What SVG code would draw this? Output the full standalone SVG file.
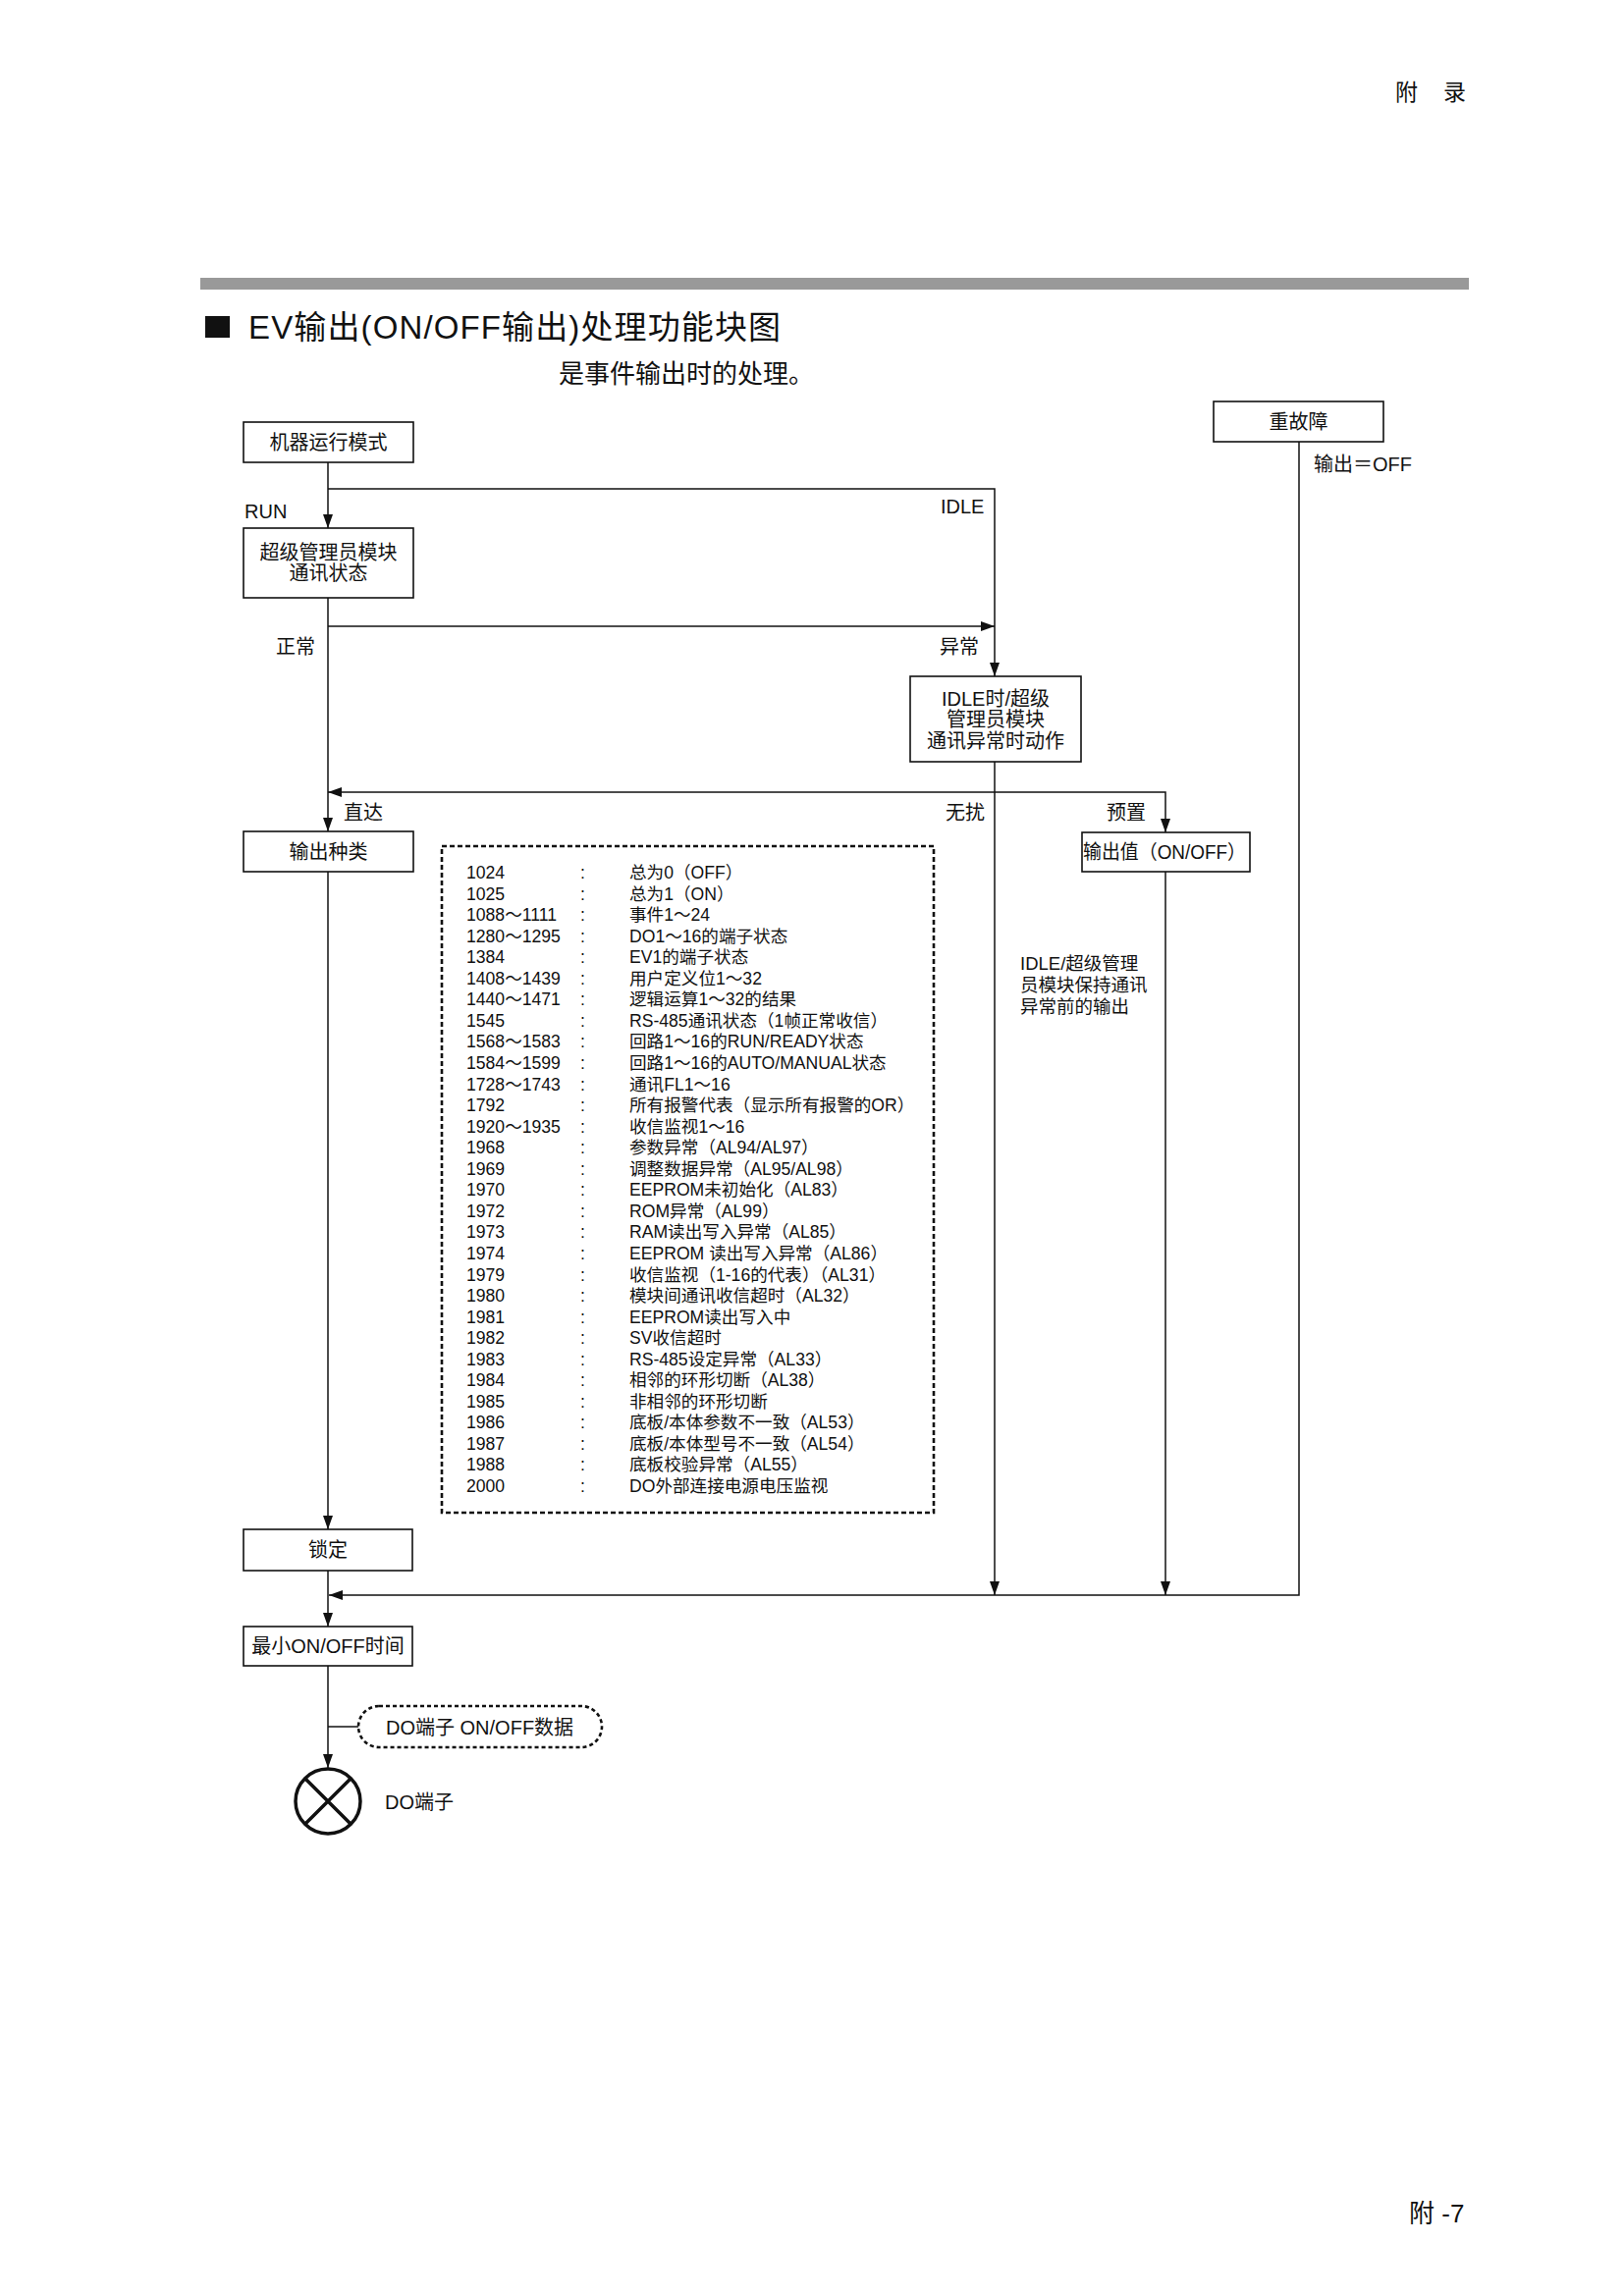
<svg xmlns="http://www.w3.org/2000/svg" width="1654" height="2339" viewBox="0 0 1654 2339">
<defs>
<style>
text{font-family:"Liberation Sans","Noto Sans CJK SC",sans-serif;fill:#111}
.n{font-size:20px}
.c{text-anchor:middle}
.lb{font-size:20px}
.tb{font-size:17.6px}
.box{fill:#fff;stroke:#111;stroke-width:1.6}
.ln{fill:none;stroke:#111;stroke-width:1.5}
.dot{fill:none;stroke:#111;stroke-width:2.6;stroke-dasharray:5 3}
</style>
<marker id="ah" markerUnits="userSpaceOnUse" viewBox="0 0 14 10" refX="14" refY="5" markerWidth="14" markerHeight="10" orient="auto">
<path d="M0,0 L14,5 L0,10 z" fill="#111"/>
</marker>
</defs>
<rect width="1654" height="2339" fill="#fff"/>

<g id="page">
<text x="1421" y="102" style="font-size:23px">附</text>
<text x="1470" y="102" style="font-size:23px">录</text>
<rect x="204" y="283" width="1292" height="12" fill="#999"/>
<rect x="209" y="322" width="25" height="22" fill="#111"/>
<text x="253" y="345" style="font-size:33px" textLength="542" lengthAdjust="spacing">EV输出(ON/OFF输出)处理功能块图</text>
<text x="569" y="390" style="font-size:26px">是事件输出时的处理。</text>
<text x="1435" y="2264" style="font-size:26px">附 -7</text>
</g>

<g id="connectors">
<path class="ln" d="M334,471 V538" marker-end="url(#ah)"/>
<path class="ln" d="M334,498 H1013 V689" marker-end="url(#ah)"/>
<path class="ln" d="M334,638 H1013" marker-end="url(#ah)"/>
<path class="ln" d="M334,609 V847" marker-end="url(#ah)"/>
<path class="ln" d="M1013,776 V1625" marker-end="url(#ah)"/>
<path class="ln" d="M1013,807 H334" marker-end="url(#ah)"/>
<path class="ln" d="M1013,807 H1187 V848" marker-end="url(#ah)"/>
<path class="ln" d="M1187,888 V1625" marker-end="url(#ah)"/>
<path class="ln" d="M334,888 V1558" marker-end="url(#ah)"/>
<path class="ln" d="M1323,450 V1625 H335" marker-end="url(#ah)"/>
<path class="ln" d="M334,1600 V1657" marker-end="url(#ah)"/>
<path class="ln" d="M334,1697 V1801" marker-end="url(#ah)"/>
<path class="ln" d="M334,1759 H365"/>
</g>

<g id="labels">
<text class="lb" x="249" y="528">RUN</text>
<text class="lb" x="958" y="523">IDLE</text>
<text class="lb" x="281" y="666">正常</text>
<text class="lb" x="957" y="666">异常</text>
<text class="lb" x="1338" y="480">输出＝OFF</text>
<text class="lb" x="350" y="835">直达</text>
<text class="lb" x="963" y="835">无扰</text>
<text class="lb" x="1127" y="835">预置</text>
<text x="1039" y="988" style="font-size:18.5px">IDLE/超级管理</text>
<text x="1039" y="1010" style="font-size:18.5px">员模块保持通讯</text>
<text x="1039" y="1032" style="font-size:18.5px">异常前的输出</text>
</g>

<g id="n-mode">
<rect class="box" x="248" y="430" width="173" height="41"/>
<text class="n c" x="334.5" y="458">机器运行模式</text>
</g>
<g id="n-super">
<rect class="box" x="248" y="538" width="173" height="71"/>
<text class="n c" x="334.5" y="570">超级管理员模块</text>
<text class="n c" x="334.5" y="591">通讯状态</text>
</g>
<g id="n-fault">
<rect class="box" x="1236" y="409" width="173" height="41"/>
<text class="n c" x="1322.5" y="437">重故障</text>
</g>
<g id="n-idle">
<rect class="box" x="927" y="689" width="174" height="87"/>
<text class="n c" x="1014" y="719">IDLE时/超级</text>
<text class="n c" x="1014" y="740">管理员模块</text>
<text class="n c" x="1014" y="762">通讯异常时动作</text>
</g>
<g id="n-type">
<rect class="box" x="248" y="847" width="173" height="41"/>
<text class="n c" x="334.5" y="875">输出种类</text>
</g>
<g id="n-preset">
<rect class="box" x="1102" y="848" width="171" height="40"/>
<text class="n" x="1103" y="875" textLength="166" lengthAdjust="spacingAndGlyphs">输出值（ON/OFF）</text>
</g>
<g id="n-list">
<rect class="dot" x="450" y="862" width="501" height="679"/>
<g class="tb">
<text x="475" y="895">1024</text><text x="591" y="895">:</text><text x="641" y="895">总为0（OFF）</text>
<text x="475" y="916.5">1025</text><text x="591" y="916.5">:</text><text x="641" y="916.5">总为1（ON）</text>
<text x="475" y="938.1">1088～1111</text><text x="591" y="938.1">:</text><text x="641" y="938.1">事件1～24</text>
<text x="475" y="959.7">1280～1295</text><text x="591" y="959.7">:</text><text x="641" y="959.7">DO1～16的端子状态</text>
<text x="475" y="981.2">1384</text><text x="591" y="981.2">:</text><text x="641" y="981.2">EV1的端子状态</text>
<text x="475" y="1002.8">1408～1439</text><text x="591" y="1002.8">:</text><text x="641" y="1002.8">用户定义位1～32</text>
<text x="475" y="1024.3">1440～1471</text><text x="591" y="1024.3">:</text><text x="641" y="1024.3">逻辑运算1～32的结果</text>
<text x="475" y="1045.9">1545</text><text x="591" y="1045.9">:</text><text x="641" y="1045.9">RS-485通讯状态（1帧正常收信）</text>
<text x="475" y="1067.4">1568～1583</text><text x="591" y="1067.4">:</text><text x="641" y="1067.4">回路1～16的RUN/READY状态</text>
<text x="475" y="1089">1584～1599</text><text x="591" y="1089">:</text><text x="641" y="1089">回路1～16的AUTO/MANUAL状态</text>
<text x="475" y="1110.5">1728～1743</text><text x="591" y="1110.5">:</text><text x="641" y="1110.5">通讯FL1～16</text>
<text x="475" y="1132.1">1792</text><text x="591" y="1132.1">:</text><text x="641" y="1132.1">所有报警代表（显示所有报警的OR）</text>
<text x="475" y="1153.6">1920～1935</text><text x="591" y="1153.6">:</text><text x="641" y="1153.6">收信监视1～16</text>
<text x="475" y="1175.2">1968</text><text x="591" y="1175.2">:</text><text x="641" y="1175.2">参数异常（AL94/AL97）</text>
<text x="475" y="1196.7">1969</text><text x="591" y="1196.7">:</text><text x="641" y="1196.7">调整数据异常（AL95/AL98）</text>
<text x="475" y="1218.3">1970</text><text x="591" y="1218.3">:</text><text x="641" y="1218.3">EEPROM未初始化（AL83）</text>
<text x="475" y="1239.8">1972</text><text x="591" y="1239.8">:</text><text x="641" y="1239.8">ROM异常（AL99）</text>
<text x="475" y="1261.4">1973</text><text x="591" y="1261.4">:</text><text x="641" y="1261.4">RAM读出写入异常（AL85）</text>
<text x="475" y="1282.9">1974</text><text x="591" y="1282.9">:</text><text x="641" y="1282.9">EEPROM 读出写入异常（AL86）</text>
<text x="475" y="1304.5">1979</text><text x="591" y="1304.5">:</text><text x="641" y="1304.5">收信监视（1-16的代表）（AL31）</text>
<text x="475" y="1326">1980</text><text x="591" y="1326">:</text><text x="641" y="1326">模块间通讯收信超时（AL32）</text>
<text x="475" y="1347.6">1981</text><text x="591" y="1347.6">:</text><text x="641" y="1347.6">EEPROM读出写入中</text>
<text x="475" y="1369.1">1982</text><text x="591" y="1369.1">:</text><text x="641" y="1369.1">SV收信超时</text>
<text x="475" y="1390.7">1983</text><text x="591" y="1390.7">:</text><text x="641" y="1390.7">RS-485设定异常（AL33）</text>
<text x="475" y="1412.2">1984</text><text x="591" y="1412.2">:</text><text x="641" y="1412.2">相邻的环形切断（AL38）</text>
<text x="475" y="1433.8">1985</text><text x="591" y="1433.8">:</text><text x="641" y="1433.8">非相邻的环形切断</text>
<text x="475" y="1455.3">1986</text><text x="591" y="1455.3">:</text><text x="641" y="1455.3">底板/本体参数不一致（AL53）</text>
<text x="475" y="1476.9">1987</text><text x="591" y="1476.9">:</text><text x="641" y="1476.9">底板/本体型号不一致（AL54）</text>
<text x="475" y="1498.4">1988</text><text x="591" y="1498.4">:</text><text x="641" y="1498.4">底板校验异常（AL55）</text>
<text x="475" y="1520">2000</text><text x="591" y="1520">:</text><text x="641" y="1520">DO外部连接电源电压监视</text>
</g>
</g>
<g id="n-latch">
<rect class="box" x="248" y="1558" width="172" height="42"/>
<text class="n c" x="334" y="1586">锁定</text>
</g>
<g id="n-minonoff">
<rect class="box" x="248" y="1657" width="172" height="40"/>
<text class="n c" x="334" y="1684">最小ON/OFF时间</text>
</g>
<g id="n-data">
<rect class="dot" x="365" y="1738" width="248" height="42" rx="21" ry="21" style="stroke-dasharray:4 3"/>
<text class="n" x="393" y="1767">DO端子 ON/OFF数据</text>
</g>
<g id="n-do">
<circle cx="334" cy="1835" r="33" fill="none" stroke="#111" stroke-width="3.5"/>
<path d="M310.7,1811.7 L357.3,1858.3 M357.3,1811.7 L310.7,1858.3" stroke="#111" stroke-width="3.5"/>
<text class="n" x="392" y="1843">DO端子</text>
</g>
</svg>
